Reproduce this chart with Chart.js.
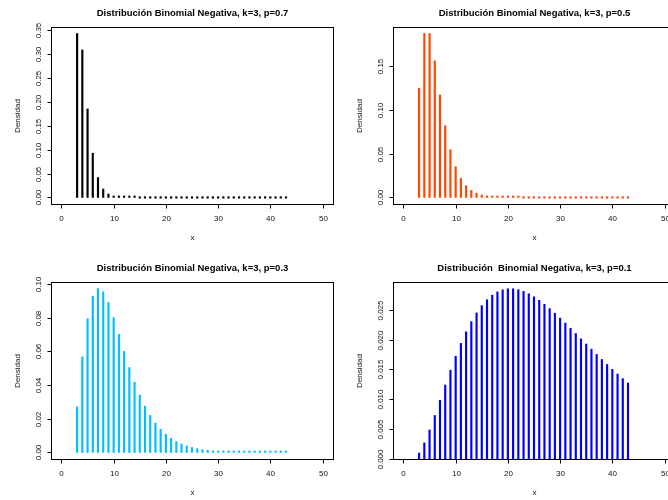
<!DOCTYPE html>
<html>
<head>
<meta charset="utf-8">
<script src="https://cdn.jsdelivr.net/npm/chart.js@4.4.1/dist/chart.umd.min.js"></script>
<style>
  html, body { margin: 0; padding: 0; background: #fff; }
  #wrap { position: relative; width: 668px; height: 500px; overflow: hidden; }
  canvas { position: absolute; }
</style>
</head>
<body>
<div id="wrap">
  <canvas id="c1" width="342" height="250" style="left:0;top:0"></canvas>
  <canvas id="c2" width="342" height="250" style="left:342px;top:0"></canvas>
  <canvas id="c3" width="342" height="250" style="left:0;top:250px"></canvas>
  <canvas id="c4" width="342" height="250" style="left:342px;top:250px"></canvas>
</div>
<script>
// number of trials x (k = 3)
const xValues = [
  3, 4, 5, 6, 7, 8, 9, 10, 11, 12, 13, 14, 15, 16, 17, 18, 19, 20, 21, 22, 23,
  24, 25, 26, 27, 28, 29, 30, 31, 32, 33, 34, 35, 36, 37, 38, 39, 40, 41, 42, 43,
];

// densities
const dens07 = [
  0.343, 0.3087, 0.1852, 0.09261, 0.04167, 0.0175, 0.007, 0.0027, 0.00101,
  0.00037, 0.00013, 0.00005, 0, 0, 0, 0, 0, 0, 0, 0, 0, 0, 0, 0, 0, 0, 0, 0, 0,
  0, 0, 0, 0, 0, 0, 0, 0, 0, 0, 0, 0,
];
const dens05 = [
  0.125, 0.1875, 0.1875, 0.15625, 0.11719, 0.08203, 0.05469, 0.03516, 0.02197,
  0.01343, 0.00806, 0.00476, 0.00278, 0.0016, 0.00092, 0.00052, 0.00029,
  0.00016, 0.00009, 0.00005, 0, 0, 0, 0, 0, 0, 0, 0, 0, 0, 0, 0, 0, 0, 0, 0, 0,
  0, 0, 0, 0,
];
const dens03 = [
  0.027, 0.0567, 0.07938, 0.09261, 0.09724, 0.0953, 0.08894, 0.08005, 0.07004,
  0.05993, 0.05034, 0.04164, 0.03401, 0.02747, 0.02197, 0.01743, 0.01373,
  0.01074, 0.00835, 0.00646, 0.00498, 0.00382, 0.00291, 0.00222, 0.00168,
  0.00127, 0.00096, 0.00072, 0.00054, 0.0004, 0.0003, 0.00022, 0.00017,
  0.00012, 0.00009, 0.00007, 0.00005, 0.00004, 0.00003, 0.00002, 0.00001,
];
const dens01 = [
  0.001, 0.0027, 0.00486, 0.00729, 0.00984, 0.0124, 0.01488, 0.01722, 0.01937,
  0.02131, 0.02301, 0.02448, 0.0257, 0.02669, 0.02745, 0.028, 0.02835, 0.02852,
  0.02852, 0.02837, 0.02808, 0.02768, 0.02718, 0.02659, 0.02592, 0.0252,
  0.02442, 0.02361, 0.02277, 0.0219, 0.02103, 0.02014, 0.01926, 0.01839,
  0.01752, 0.01667, 0.01584, 0.01502, 0.01423, 0.01347, 0.01273,
];

const titles = [
  'Distribución Binomial Negativa, k=3, p=0.7',
  'Distribución Binomial Negativa, k=3, p=0.5',
  'Distribución Binomial Negativa, k=3, p=0.3',
  'Distribución  Binomial Negativa, k=3, p=0.1',
];
const xTickLabels = ['0', '10', '20', '30', '40', '50'];
const yTicks07 = ['0.00', '0.05', '0.10', '0.15', '0.20', '0.25', '0.30', '0.35'];
const yTicks05 = ['0.00', '0.05', '0.10', '0.15'];
const yTicks03 = ['0.00', '0.02', '0.04', '0.06', '0.08', '0.10'];
const yTicks01 = ['0.000', '0.005', '0.010', '0.015', '0.020', '0.025'];

const FONT = '"Liberation Sans", Arial, Helvetica, sans-serif';

// R style box, ticks and labels drawn from the chart's own scales
const rAxes = {
  id: 'rAxes',
  afterDraw(chart, args, opts) {
    const ctx = chart.ctx;
    const a = chart.chartArea;
    const xs = chart.scales.x;
    const ys = chart.scales.y;
    const L = Math.round(a.left) + 0.5;
    const R = Math.round(a.right) + 0.5;
    const T = Math.round(a.top) + 0.5;
    const B = Math.round(a.bottom) + 0.5;
    ctx.save();
    ctx.strokeStyle = '#000';
    ctx.lineWidth = 1;
    ctx.strokeRect(L, T, R - L, B - T);

    ctx.fillStyle = '#111';
    ctx.font = '8px ' + FONT;
    ctx.textAlign = 'center';
    ctx.textBaseline = 'middle';
    opts.xTicks.forEach((lbl) => {
      const px = Math.round(xs.getPixelForValue(parseFloat(lbl))) + 0.5;
      ctx.beginPath();
      ctx.moveTo(px, B);
      ctx.lineTo(px, B + 4);
      ctx.stroke();
      ctx.fillText(lbl, px, B + 14);
    });
    opts.yTicks.forEach((lbl) => {
      const py = Math.round(ys.getPixelForValue(parseFloat(lbl))) + 0.5;
      ctx.beginPath();
      ctx.moveTo(L - 4, py);
      ctx.lineTo(L, py);
      ctx.stroke();
      ctx.save();
      ctx.translate(L - 13, py);
      ctx.rotate(-Math.PI / 2);
      ctx.fillText(lbl, 0, 0);
      ctx.restore();
    });

    // axis titles
    ctx.fillText('x', (L + R) / 2, B + 33);
    ctx.save();
    ctx.translate(L - 34, (T + B) / 2);
    ctx.rotate(-Math.PI / 2);
    ctx.fillText('Densidad', 0, 0);
    ctx.restore();

    ctx.fillStyle = '#000';
    ctx.font = 'bold 9.5px ' + FONT;
    ctx.fillText(opts.title, (L + R) / 2, T - 14);
    ctx.restore();
  },
};

function drawPanel(id, values, color, title, yTicks, yMin, yMax, padTop, padBottom) {
  const ctx = document.getElementById(id).getContext('2d');
  return new Chart(ctx, {
    type: 'bar',
    data: {
      datasets: [
        {
          data: values.map((v, i) => ({ x: xValues[i], y: v })),
          backgroundColor: color,
          borderWidth: 0,
          barThickness: 1.5,
          minBarLength: 1.5,
        },
      ],
    },
    options: {
      responsive: false,
      animation: false,
      events: [],
      layout: { padding: { left: 51, right: 9, top: padTop, bottom: padBottom } },
      scales: {
        x: { type: 'linear', min: -2, max: 52, offset: false, display: false },
        y: { type: 'linear', min: yMin, max: yMax, display: false },
      },
      plugins: {
        legend: { display: false },
        tooltip: { enabled: false },
        rAxes: { title: title, xTicks: xTickLabels, yTicks: yTicks },
      },
    },
    plugins: [rAxes],
  });
}

drawPanel('c1', dens07, '#000000', titles[0], yTicks07, -0.01372, 0.35672, 27, 46);
drawPanel('c2', dens05, '#FF4500', titles[1], yTicks05, -0.0075, 0.195, 27, 46);
drawPanel('c3', dens03, '#00BFFF', titles[2], yTicks03, -0.00389, 0.10113, 32, 41);
drawPanel('c4', dens01, '#0000FF', titles[3], yTicks01, 0, 0.02966, 32, 41);
</script>
</body>
</html>
